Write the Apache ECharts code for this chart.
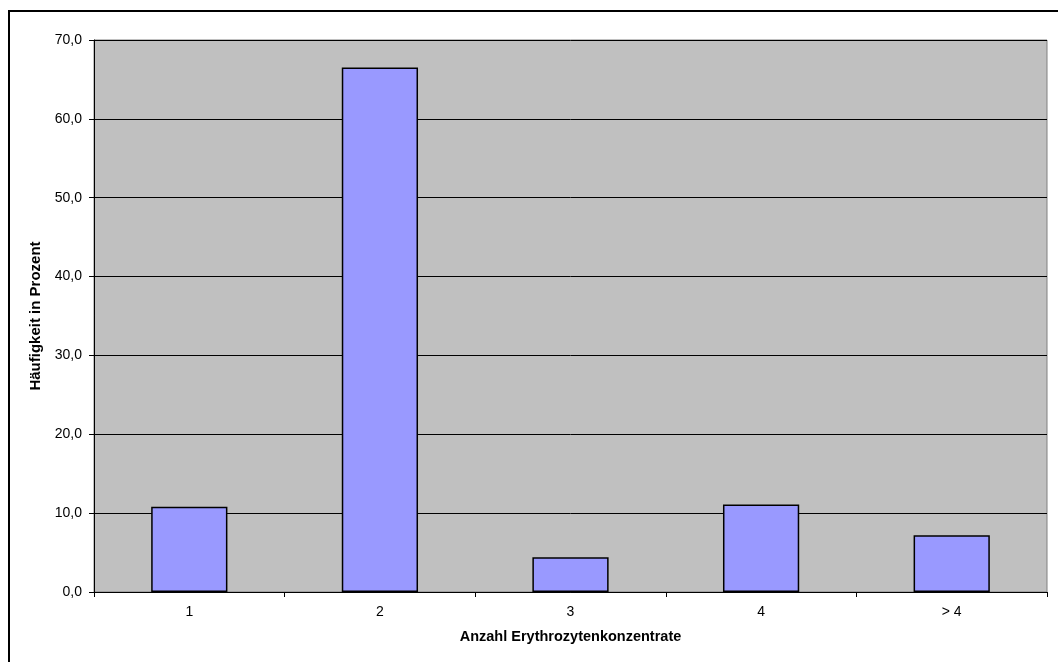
<!DOCTYPE html>
<html>
<head>
<meta charset="utf-8">
<script src="https://cdn.jsdelivr.net/npm/echarts@6/dist/echarts.min.js"></script>
<style>
  html, body { margin: 0; padding: 0; background: #fff; }
  #chart { width: 1058px; height: 662px; }
</style>
</head>
<body>
<div id="chart"></div>
<script>
// Anzahl transfundierter Erythrozytenkonzentrate je Patient
const categories = ['1', '2', '3', '4', '> 4'];
const percentages = [10.8, 66.5, 4.4, 11.1, 7.2];
const yTicks = { min: 0, max: 70, interval: 10 };

const chart = echarts.init(document.getElementById('chart'), null, { renderer: 'canvas' });
const font = '"Liberation Sans", Arial, sans-serif';

chart.setOption({
  animation: false,
  backgroundColor: '#ffffff',
  textStyle: { fontFamily: font },
  graphic: [{
    type: 'rect',
    shape: { x: 9, y: 11, width: 1100, height: 700 },
    style: { fill: 'none', stroke: '#000', lineWidth: 2 },
    silent: true,
    z: 100
  }],
  grid: {
    left: 94, right: 11, top: 40, bottom: 70,
    show: true,
    backgroundColor: '#C0C0C0',
    borderColor: '#808080',
    borderWidth: 1
  },
  xAxis: {
    type: 'category',
    data: categories,
    name: 'Anzahl Erythrozytenkonzentrate',
    nameLocation: 'middle',
    nameGap: 37,
    nameTextStyle: { fontFamily: font, fontSize: 14.5, fontWeight: 'bold', color: '#000' },
    axisLine: { show: true, lineStyle: { color: '#000', width: 1 } },
    axisTick: { show: true, length: 5, lineStyle: { color: '#000' } },
    axisLabel: { fontFamily: font, fontSize: 14, color: '#000', margin: 13 },
    splitLine: { show: false }
  },
  yAxis: {
    type: 'value',
    min: yTicks.min,
    max: yTicks.max,
    interval: yTicks.interval,
    name: 'Häufigkeit in Prozent',
    nameLocation: 'middle',
    nameGap: 43,
    nameTextStyle: { fontFamily: font, fontSize: 15, fontWeight: 'bold', color: '#000' },
    axisLine: { show: true, lineStyle: { color: '#000', width: 1 } },
    axisTick: { show: true, length: 5, lineStyle: { color: '#000' } },
    axisLabel: {
      fontFamily: font, fontSize: 14, color: '#000', margin: 12,
      formatter: v => v.toFixed(1).replace('.', ',')
    },
    splitLine: { show: true, lineStyle: { color: '#000', width: 1 } }
  },
  series: [{
    type: 'bar',
    data: percentages,
    barWidth: '40%',
    itemStyle: { color: '#9999FF', borderColor: '#000', borderWidth: 1.5 }
  }]
});
</script>
</body>
</html>
